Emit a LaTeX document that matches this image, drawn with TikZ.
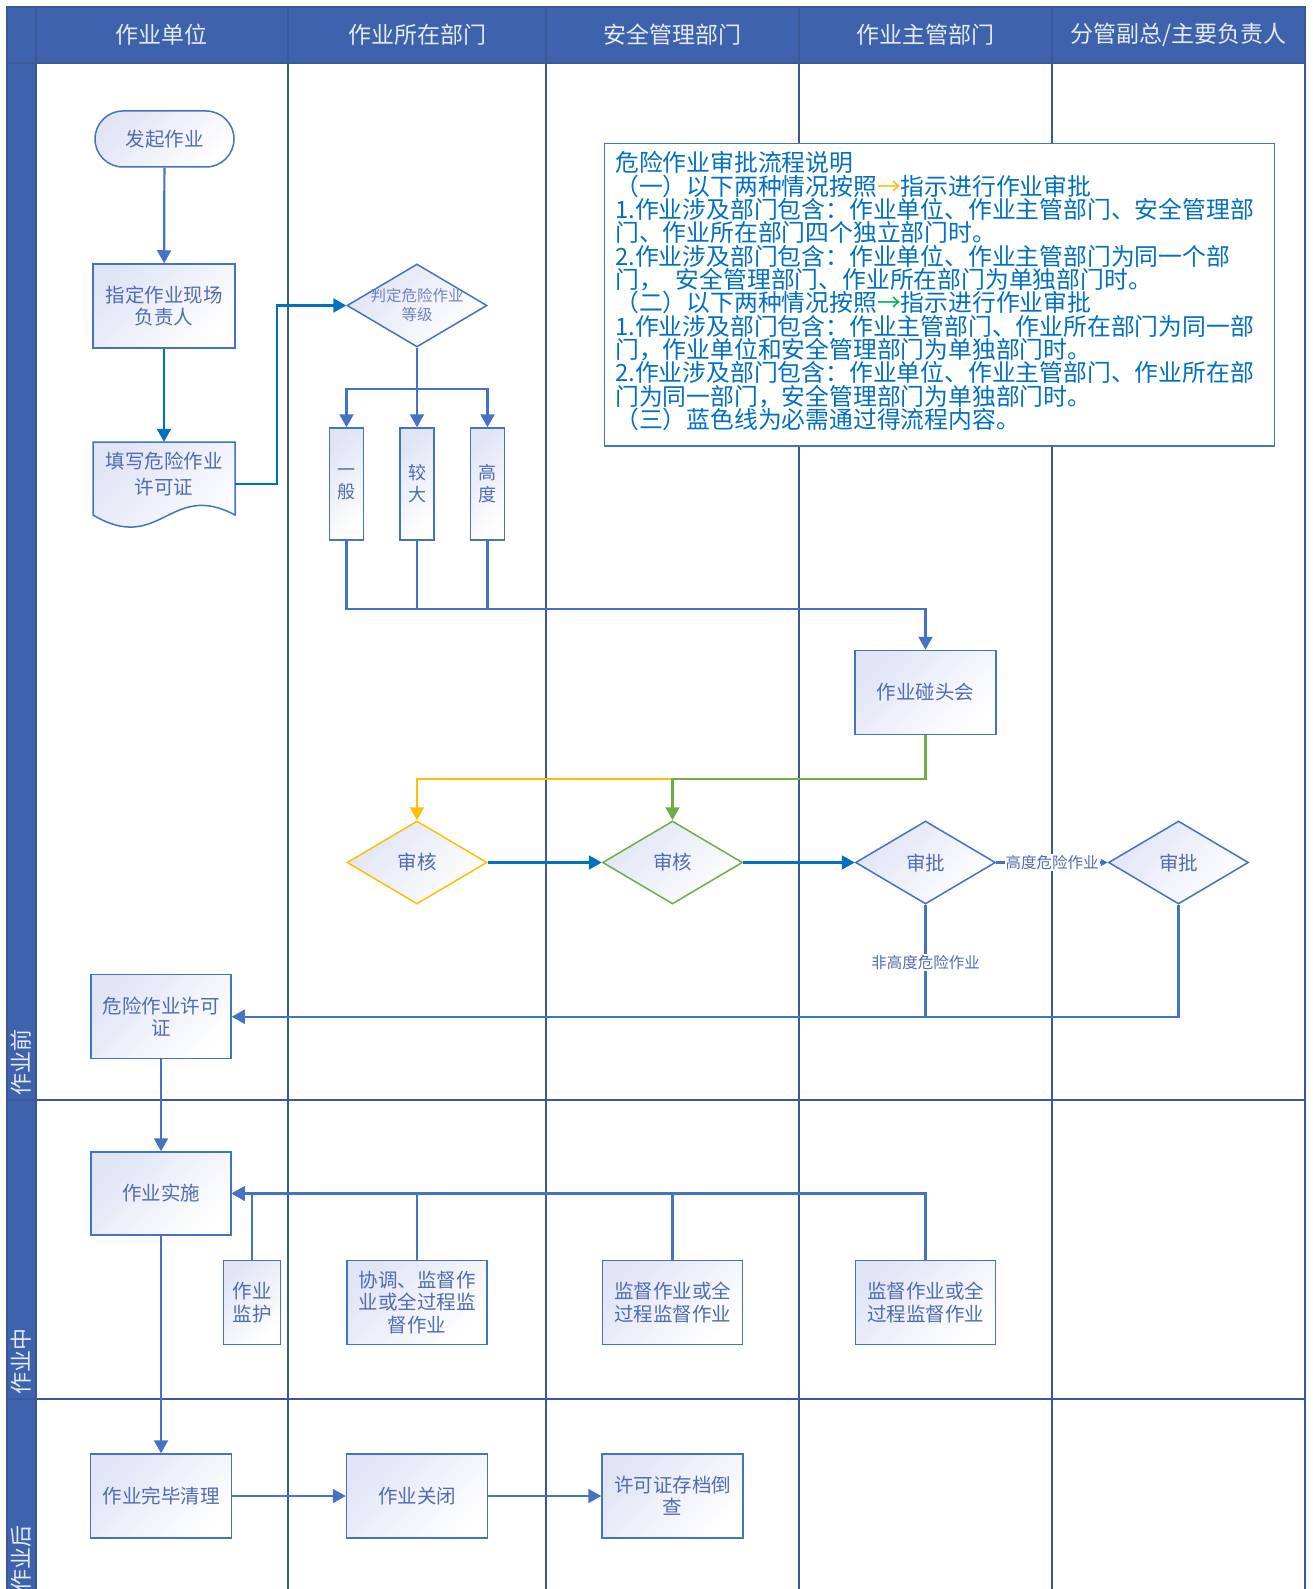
\documentclass[tikz,border=0pt]{standalone}
\usepackage{fontspec}
\setmainfont{Noto Sans CJK SC}
\usetikzlibrary{arrows.meta,shapes.geometric,shapes.misc}
\definecolor{lanefill}{RGB}{62,99,172}
\definecolor{laneedge}{RGB}{59,89,152}
\definecolor{headtext}{RGB}{228,233,244}
\definecolor{boxedge}{RGB}{68,114,196}
\definecolor{boxtint}{RGB}{224,228,245}
\definecolor{boxtext}{RGB}{80,108,178}
\definecolor{gradetext}{RGB}{112,132,190}
\definecolor{linkblue}{RGB}{68,114,196}
\definecolor{brightblue}{RGB}{0,112,192}
\definecolor{checkyellow}{RGB}{255,192,0}
\definecolor{checkgreen}{RGB}{112,173,71}
\definecolor{notegreen}{RGB}{0,176,80}
\definecolor{notetext}{RGB}{0,112,192}

\begin{document}
\begin{tikzpicture}[
  x=1pt, y=-1pt,
  laneline/.style={draw=laneedge,line width=2pt},
  head/.style={text=headtext,font=\fontsize{23}{23}\selectfont},
  phase/.style={text=headtext,font=\fontsize{22}{22}\selectfont,rotate=90,anchor=west,inner sep=1pt},
  shadebox/.style={draw=boxedge,line width=1.5pt,top color=boxtint,bottom color=white,shading angle=45},
  procbox/.style={rectangle,shadebox,text=boxtext,font=\fontsize{19.5}{22.5}\selectfont,align=center,minimum width=141pt,minimum height=84pt,inner sep=1pt},
  startbox/.style={procbox,rounded rectangle,minimum height=56pt},
  levelbox/.style={procbox,minimum width=34pt,minimum height=112pt,font=\fontsize{18}{22}\selectfont},
  doctext/.style={text=boxtext,font=\fontsize{19.5}{26}\selectfont,align=center,minimum width=142pt,minimum height=64pt,inner sep=1pt},
  decision/.style={diamond,aspect=1.69,shadebox,text=boxtext,font=\fontsize{19.5}{22.5}\selectfont,align=center,minimum width=140pt,minimum height=83pt,inner sep=0pt},
  grading/.style={decision,font=\fontsize{15.5}{19}\selectfont,text=gradetext,inner xsep=-14pt},
  yellowcheck/.style={decision,draw=checkyellow},
  greencheck/.style={decision,draw=checkgreen},
  tag/.style={fill=white,text=boxtext,font=\fontsize{15.5}{15.5}\selectfont,inner sep=1pt},
  notebox/.style={draw=boxedge,line width=1.5pt,fill=white,minimum width=670pt,minimum height=302.7pt},
  notetext/.style={text=notetext,font=\fontsize{23.8}{23.33}\selectfont,align=left,inner sep=0pt},
  link/.style={draw=linkblue,line width=2.2pt},
  flow/.style={link,-{Triangle[length=13pt,width=14pt]}},
  flowb/.style={flow,draw=brightblue},
  flowy/.style={flow,draw=checkyellow},
  flowg/.style={flow,draw=checkgreen}
]
  \useasboundingbox (0,0) rectangle (1312,1589);
  \fill[lanefill] (7,7) rectangle (1305,63);
  \fill[lanefill] (7,7) rectangle (35.5,1592);
  \foreach \x in {35.5,288,546,799,1052}
    \draw[laneline] (\x,7) -- (\x,1592);
  \foreach \y in {63,1099.5,1398.5}
    \draw[laneline] (7,\y) -- (1305,\y);
  \draw[laneline] (7,1592) -- (7,7) -- (1305,7) -- (1305,1592);

  \node[head] (h1) at (161.75,35) {作业单位};
  \node[head] (h2) at (417,35) {作业所在部门};
  \node[head] (h3) at (672.5,35) {安全管理部门};
  \node[head] (h4) at (925.5,35) {作业主管部门};
  \node[head] (h5) at (1178.5,35) {分管副总/主要负责人};
  \node[phase] (before) at (21,1097) {作业前};
  \node[phase] (during) at (21,1396) {作业中};
  \node[phase] (after) at (21,1593) {作业后};

  \node[notebox] (note) at (939.3,294.7) {};
  \node[notetext,anchor=north west] (notebody) at (615,151.5) {危险作业审批流程说明\\
（一）以下两种情况按照{\color{checkyellow}→}指示进行作业审批\\
1.作业涉及部门包含：作业单位、作业主管部门、安全管理部\\
门、作业所在部门四个独立部门时。\\
2.作业涉及部门包含：作业单位、作业主管部门为同一个部\\
门，\hspace{0.55em}安全管理部门、作业所在部门为单独部门时。\\
（二）以下两种情况按照{\color{notegreen}→}指示进行作业审批\\
1.作业涉及部门包含：作业主管部门、作业所在部门为同一部\\
门，作业单位和安全管理部门为单独部门时。\\
2.作业涉及部门包含：作业单位、作业主管部门、作业所在部\\
门为同一部门，安全管理部门为单独部门时。\\
（三）蓝色线为必需通过得流程内容。};

  \node[startbox] (start) at (164.5,139) {发起作业};
  \node[procbox,minimum width=142pt] (assign) at (164,306) {指定作业现场\\负责人};
  \path[shadebox] (93,442) -- (235,442) -- (235,515) .. controls (170,480) and (160,555) .. (93,515) -- cycle;
  \node[doctext] (permitform) at (164,474) {填写危险作业\\许可证};
  \node[grading] (grade) at (417,305.5) {判定危险作业\\等级};
  \node[levelbox] (lvlA) at (346.5,484) {一\\般};
  \node[levelbox] (lvlB) at (417,484) {较\\大};
  \node[levelbox] (lvlC) at (487.5,484) {高\\度};
  \node[procbox] (meet) at (925.5,692.5) {作业碰头会};
  \node[yellowcheck] (check1) at (417,862.5) {审核};
  \node[greencheck] (check2) at (672.5,862.5) {审核};
  \node[decision] (approve1) at (925.5,862.5) {审批};
  \node[decision] (approve2) at (1178.5,862.5) {审批};
  \node[procbox,minimum width=140pt] (permit) at (161,1016.7) {危险作业许可\\证};
  \node[procbox,minimum width=140pt,minimum height=83pt] (execute) at (161,1193.5) {作业实施};
  \node[procbox,minimum width=56.6pt,minimum height=83.6pt] (guard) at (252,1302.5) {作业\\监护};
  \node[procbox,minimum width=140pt] (coord) at (417,1302.5) {协调、监督作\\业或全过程监\\督作业};
  \node[procbox,minimum width=140pt] (supA) at (672.5,1302.5) {监督作业或全\\过程监督作业};
  \node[procbox,minimum width=140pt] (supB) at (925.5,1302.5) {监督作业或全\\过程监督作业};
  \node[procbox,minimum width=141pt] (cleanup) at (161,1496) {作业完毕清理};
  \node[procbox,minimum width=141pt] (close) at (417,1496) {作业关闭};
  \node[procbox,minimum width=141pt] (archive) at (672.5,1496) {许可证存档倒\\查};

  \coordinate (fork) at (417,389);
  \coordinate (merge) at (925.5,609);
  \coordinate (split) at (925.5,779.3);
  \draw[flow] (start) -- (assign);
  \draw[flowb] (assign) -- (permitform.north);
  \draw[flowb] ([yshift=-10pt]permitform.east) -- ++(42,0) |- (grade.west);
  \draw[link] (grade.south) -- (fork);
  \draw[flow] (fork) -| (lvlA.north);
  \draw[flow] (fork) -- (lvlB.north);
  \draw[flow] (fork) -| (lvlC.north);
  \draw[flow] (lvlA.south) |- (merge) -- (meet.north);
  \draw[link] (lvlB.south) -- (lvlB.south |- merge);
  \draw[link] (lvlC.south) -- (lvlC.south |- merge);
  \draw[flowy] (meet.south) -- (split) -| (check1.north);
  \draw[flowg] (meet.south) -- (split) -| (check2.north);
  \draw[flowb] (check1) -- (check2);
  \draw[flowb] (check2) -- (approve1);
  \draw[link,-{Triangle[length=7pt,width=7pt]}] (approve1.east) -- node[tag] {高度危险作业} (approve2.west);
  \draw[flow] (approve1.south) |- node[tag,pos=0.257] {非高度危险作业} (permit.east);
  \draw[link] (approve2.south) |- (approve1.south |- permit.east);
  \draw[flow] (permit) -- (execute);
  \draw[flow] (supB.north) |- (execute.east);
  \draw[flow] (supA.north) |- (execute.east);
  \draw[flow] (coord.north) |- (execute.east);
  \draw[flow] (guard.north) |- (execute.east);
  \draw[flow] (execute) -- (cleanup);
  \draw[flow] (cleanup) -- (close);
  \draw[flow] (close) -- (archive);
\end{tikzpicture}
\end{document}
